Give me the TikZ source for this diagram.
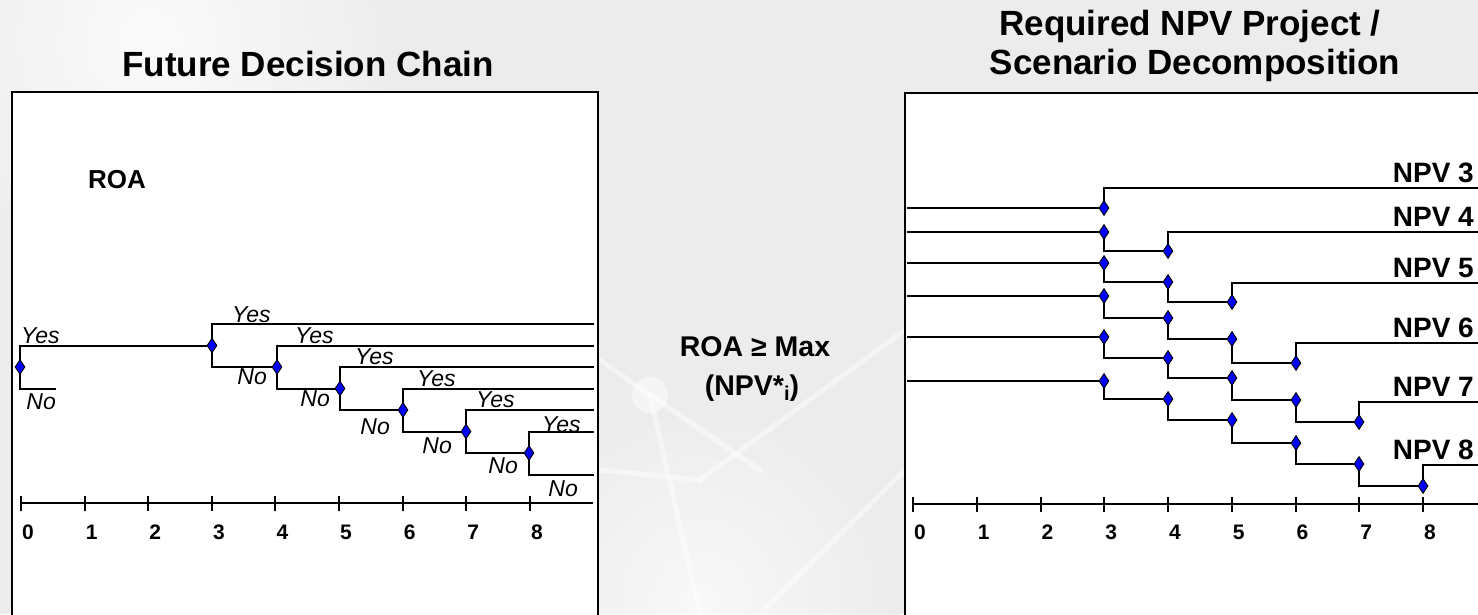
\documentclass[tikz,border=0pt]{standalone}
\usepackage{fontspec}
\setmainfont{Liberation Sans}
\usetikzlibrary{shapes.geometric}
\pgfdeclarelayer{back}
\pgfdeclarelayer{lines}
\pgfsetlayers{back,lines,main}
\definecolor{bgc}{RGB}{236,236,236}
\definecolor{dblue}{RGB}{0,0,255}
\begin{document}
\begin{tikzpicture}[x=1pt,y=-1pt,
  dmd/.style={shape=diamond, draw=black, fill=dblue, line width=0.9pt, minimum width=10pt, minimum height=15pt, inner sep=0pt},
  wire/.style={draw=black, line width=2pt},
  frame/.style={draw=black, line width=2.4pt, fill=white},
  net/.style={draw=white, line width=5pt, opacity=0.45, line cap=round},
  ttl/.style={font=\fontsize{35}{40}\selectfont\bfseries, inner sep=0pt, anchor=base},
  mid/.style={font=\fontsize{28.5}{32}\selectfont\bfseries, inner sep=0pt, anchor=base},
  yeslbl/.style={font=\fontsize{23}{26}\selectfont\itshape, inner sep=0pt, anchor=base west},
  nolbl/.style={font=\fontsize{23}{26}\selectfont\itshape, inner sep=0pt, anchor=north east},
  npv/.style={font=\fontsize{28}{32}\selectfont\bfseries, inner sep=0pt, anchor=base east},
  num/.style={font=\fontsize{21}{24}\selectfont\bfseries, inner sep=0pt, anchor=base west},
  roa/.style={font=\fontsize{26}{30}\selectfont\bfseries, inner sep=0pt, anchor=base west}]
\useasboundingbox (0,0) rectangle (1478,614);

% ---------- background ----------
\begin{pgfonlayer}{back}
\fill[bgc] (0,0) rectangle (1478,614);
\shade[inner color=white, outer color=bgc, opacity=0.8] (150,40) circle (260);
\shade[inner color=white, outer color=bgc, opacity=0.7] (700,600) circle (200);
\draw[net] (600,360) -- (650,395);
\draw[net] (650,395) -- (700,614);
\draw[net] (650,395) -- (760,470);
\draw[net] (700,480) -- (905,330);
\draw[net] (760,614) -- (905,470);
\draw[net] (600,470) -- (700,480);
\fill[white, opacity=0.5] (650,395) circle (18);
\draw[frame] (12,92) rectangle (598,650);
\draw[frame] (905,93) rectangle (1500,650);
\end{pgfonlayer}

% ---------- titles ----------
\node[ttl] (t1) at (308,76) {Future Decision Chain};
\node[ttl] (t2a) at (1190,35) {Required NPV Project /};
\node[ttl] (t2b) at (1195,74) {Scenario Decomposition};

% ---------- middle text ----------
\node[mid] (m1) at (755,356) {ROA ≥ Max};
\node[mid] (m2) at (752,395) {(NPV*\raisebox{-5pt}{\fontsize{20}{20}\selectfont i})};

% ---------- left: future decision chain ----------
\node[roa] (roa) at (88,188) {ROA};
\node[dmd] (r0) at (20,367) {};
\node[dmd] (a3) at (212,345.5) {};
\node[dmd] (a4) at (277,367) {};
\node[dmd] (a5) at (340,388.5) {};
\node[dmd] (a6) at (403,410) {};
\node[dmd] (a7) at (466,431.5) {};
\node[dmd] (a8) at (529,453) {};
\coordinate (r0no) at (56,388.5);
\coordinate (a3y) at (594,324);
\coordinate (a4y) at (594,345.5);
\coordinate (a5y) at (594,367);
\coordinate (a6y) at (594,388.5);
\coordinate (a7y) at (594,410);
\coordinate (a8y) at (594,431.5);
\coordinate (a8n) at (594,474.5);
\begin{pgfonlayer}{lines}
\draw[wire] (r0.center) |- (a3.center);
\draw[wire] (r0.center) |- (r0no);
\draw[wire] (a3.center) |- (a3y);
\draw[wire] (a3.center) |- (a4.center);
\draw[wire] (a4.center) |- (a4y);
\draw[wire] (a4.center) |- (a5.center);
\draw[wire] (a5.center) |- (a5y);
\draw[wire] (a5.center) |- (a6.center);
\draw[wire] (a6.center) |- (a6y);
\draw[wire] (a6.center) |- (a7.center);
\draw[wire] (a7.center) |- (a7y);
\draw[wire] (a7.center) |- (a8.center);
\draw[wire] (a8.center) |- (a8y);
\draw[wire] (a8.center) |- (a8n);
\end{pgfonlayer}
\node[yeslbl] (y0) at (21,343) {Yes};
\node[yeslbl] (y3) at (232,322) {Yes};
\node[yeslbl] (y4) at (295,343) {Yes};
\node[yeslbl] (y5) at (355,364) {Yes};
\node[yeslbl] (y6) at (417,386) {Yes};
\node[yeslbl] (y7) at (476,407) {Yes};
\node[yeslbl] (y8) at (542,432) {Yes};
\node[nolbl] (n0) at (56,393) {No};
\node[nolbl] (n3) at (267,368) {No};
\node[nolbl] (n4) at (330,390) {No};
\node[nolbl] (n5) at (390,418) {No};
\node[nolbl] (n6) at (452,437) {No};
\node[nolbl] (n7) at (518,457) {No};
\node[nolbl] (n8) at (578,480) {No};

% left axis
\coordinate (la0) at (21,503);
\coordinate (la1) at (593,503);
\draw[wire] (la0) -- (la1);
\foreach \k in {0,...,8} {
  \draw[wire] (21+63.6*\k,496) -- (21+63.6*\k,511);
  \node[num] (ln\k) at (22+63.6*\k,539) {\k};
}

% ---------- right: NPV decomposition ----------
\node[dmd] (b1a) at (1104,208) {};
\node[dmd] (b2a) at (1104,232) {};
\node[dmd] (b2b) at (1168,251) {};
\node[dmd] (b3a) at (1104,263) {};
\node[dmd] (b3b) at (1168,282) {};
\node[dmd] (b3c) at (1232,302) {};
\node[dmd] (b4a) at (1104,296) {};
\node[dmd] (b4b) at (1168,318) {};
\node[dmd] (b4c) at (1232,339) {};
\node[dmd] (b4d) at (1296,363) {};
\node[dmd] (b5a) at (1104,337) {};
\node[dmd] (b5b) at (1168,358) {};
\node[dmd] (b5c) at (1232,378) {};
\node[dmd] (b5d) at (1296,400) {};
\node[dmd] (b5e) at (1359,422) {};
\node[dmd] (b6a) at (1104,381) {};
\node[dmd] (b6b) at (1168,399) {};
\node[dmd] (b6c) at (1232,420) {};
\node[dmd] (b6d) at (1296,443) {};
\node[dmd] (b6e) at (1359,464) {};
\node[dmd] (b6f) at (1423,486) {};
\coordinate (b1in) at (907,208);
\coordinate (b2in) at (907,232);
\coordinate (b3in) at (907,263);
\coordinate (b4in) at (907,296);
\coordinate (b5in) at (907,337);
\coordinate (b6in) at (907,381);
\coordinate (b1out) at (1482,188);
\coordinate (b2out) at (1482,232);
\coordinate (b3out) at (1482,283);
\coordinate (b4out) at (1482,343);
\coordinate (b5out) at (1482,402);
\coordinate (b6out) at (1482,465);
\begin{pgfonlayer}{lines}
\draw[wire] (b1in) -- (b1a.center);
\draw[wire] (b1a.center) |- (b1out);
\draw[wire] (b2in) -- (b2a.center);
\draw[wire] (b2a.center) |- (b2b.center);
\draw[wire] (b2b.center) |- (b2out);
\draw[wire] (b3in) -- (b3a.center);
\draw[wire] (b3a.center) |- (b3b.center);
\draw[wire] (b3b.center) |- (b3c.center);
\draw[wire] (b3c.center) |- (b3out);
\draw[wire] (b4in) -- (b4a.center);
\draw[wire] (b4a.center) |- (b4b.center);
\draw[wire] (b4b.center) |- (b4c.center);
\draw[wire] (b4c.center) |- (b4d.center);
\draw[wire] (b4d.center) |- (b4out);
\draw[wire] (b5in) -- (b5a.center);
\draw[wire] (b5a.center) |- (b5b.center);
\draw[wire] (b5b.center) |- (b5c.center);
\draw[wire] (b5c.center) |- (b5d.center);
\draw[wire] (b5d.center) |- (b5e.center);
\draw[wire] (b5e.center) |- (b5out);
\draw[wire] (b6in) -- (b6a.center);
\draw[wire] (b6a.center) |- (b6b.center);
\draw[wire] (b6b.center) |- (b6c.center);
\draw[wire] (b6c.center) |- (b6d.center);
\draw[wire] (b6d.center) |- (b6e.center);
\draw[wire] (b6e.center) |- (b6f.center);
\draw[wire] (b6f.center) |- (b6out);
\end{pgfonlayer}
\node[npv] (p3) at (1474,182) {NPV 3};
\node[npv] (p4) at (1474,226) {NPV 4};
\node[npv] (p5) at (1474,277) {NPV 5};
\node[npv] (p6) at (1474,337) {NPV 6};
\node[npv] (p7) at (1474,396) {NPV 7};
\node[npv] (p8) at (1474,459) {NPV 8};

% right axis
\coordinate (ra0) at (913,504);
\coordinate (ra1) at (1482,504);
\draw[wire] (ra0) -- (ra1);
\foreach \k in {0,...,8} {
  \draw[wire] (913+63.75*\k,497) -- (913+63.75*\k,512);
  \node[num] (rn\k) at (914+63.75*\k,539) {\k};
}
\end{tikzpicture}
\end{document}
